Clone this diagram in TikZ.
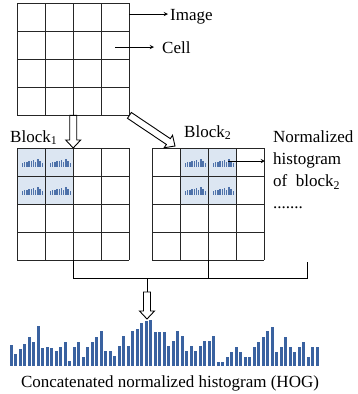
\documentclass[tikz,border=0pt]{standalone}
\usepackage{fontspec}
\setmainfont{Liberation Serif}
\usepackage{xcolor}
\usepackage{tikz}
\usetikzlibrary{calc}

\definecolor{blockfill}{RGB}{220,230,242}
\definecolor{barblue}{RGB}{58,98,160}

\tikzset{
	cellline/.style = {line width=0.9pt, draw=black!85},
	hollow/.style = {line width=0.9pt, fill=white},
	hogbar/.style = {fill=barblue},
	cellbar/.style = {fill=barblue!90},
}

% 4x4 grid of cells, named by a node over it
\newcommand{\cellgrid}[3]{%
	\foreach \k in {0,28,...,112} {
		\draw[cellline] ({#2+\k},#3) -- ++(0,112);
		\draw[cellline] (#2,{#3+\k}) -- ++(112,0);
	}
	\node[inner sep=0, minimum size=112pt, anchor=north west] (#1) at (#2,#3) {};
}

% shaded cell with its small histogram
\newcommand{\histcell}[2]{%
	\fill[blockfill] (#1,#2) rectangle ++(28,28);
	\foreach \hh [count=\j] in {4,5,5,6.3,5.7,7,5,8,5.7,3.7}
		\fill[cellbar] ({#1+2.6+2.2*\j},{#2+19}) rectangle ++(1.3,-\hh);
}

% fat open arrow between two points
\newcommand{\hollowarrow}[2]{%
	\coordinate (hbase) at ($(#2)!8pt!(#1)$);
	\draw[hollow] ($(#1)!3.5pt!90:(#2)$) -- ($(hbase)!3.5pt!90:(#2)$)
		-- ($(hbase)!7.5pt!90:(#2)$) -- (#2) -- ($(hbase)!7.5pt!-90:(#2)$)
		-- ($(hbase)!3.5pt!-90:(#2)$) -- ($(#1)!3.5pt!-90:(#2)$) -- cycle;
}

\begin{document}
\begin{tikzpicture}[x=1pt, y=-1pt, font=\fontsize{17}{22}\selectfont]
	\useasboundingbox (0,0) rectangle (358,394);

	% shaded blocks
	\foreach \cx/\cy in {17/148, 45/148, 17/176, 45/176, 180/148, 208/148, 180/176, 208/176}
		\histcell{\cx}{\cy};

	% grids
	\cellgrid{image}{17}{3}
	\cellgrid{gridA}{17}{148}
	\cellgrid{gridB}{152}{148}

	% labels
	\node[anchor=base west, inner sep=0] (imagelabel) at (170,20) {Image};
	\node[anchor=base west, inner sep=0] (celllabel) at (162,53) {Cell};
	\node[anchor=base west, inner sep=0] (blockA) at (10,142) {Block\textsubscript{1}};
	\node[anchor=base west, inner sep=0] (blockB) at (184,137) {Block\textsubscript{2}};
	\node[anchor=north west, inner xsep=8pt, inner ysep=0pt, align=left] (normtext) at (265,130.5)
		{Normalized\\histogram\\of\ \ block\textsubscript{2}\\.......};
	\node (caption) at (170,383) {Concatenated normalized histogram (HOG)};

	\coordinate (imgtip) at ($(imagelabel.base west)+(-2,-6)$);
	\coordinate (cellpt) at (115,47);
	\coordinate (celltip) at ($(celllabel.base west)+(-8,-6)$);
	\coordinate (histpt) at (228,161);
	\coordinate (diagtip) at (175,146);
	\coordinate (join) at (147,278);
	\coordinate (dotsend) at (307,262);
	\coordinate (hogtop) at (147,292);
	\coordinate (hogtip) at (147,319);

	\begin{scope}[-stealth, line width=0.9pt]
		\draw (image.east |- imgtip) -- (imgtip);
		\draw (cellpt) -- (celltip);
		\draw (histpt) -- (normtext.west |- histpt);
	\end{scope}

	\hollowarrow{image.south}{gridA.north}
	\hollowarrow{image.south east}{diagtip}

	% joining lines
	\begin{scope}[line width=0.9pt]
		\draw (gridA.south) |- (dotsend |- join) -- (dotsend);
		\draw (gridB.south) -- (gridB.south |- join);
		\draw (join) -- (hogtop);
	\end{scope}
	\hollowarrow{hogtop}{hogtip}

	% concatenated histogram
	\foreach \h [count=\i] in {21,12,17,22,29,24,40,18,19,18,15,19,24,5,19,24,9,19,24,29,
			35,15,15,10,20,30,20,35,37,43,45,46,34,34,34,20,25,35,30,15,
			20,15,20,25,25,30,4,4,9,14,19,14,9,9,19,24,29,35,39,14,
			19,29,19,14,19,24,9,19,19}
		\fill[hogbar] ({9.5+4.5*(\i-1)},366) rectangle ++(3,-\h);
\end{tikzpicture}
\end{document}
